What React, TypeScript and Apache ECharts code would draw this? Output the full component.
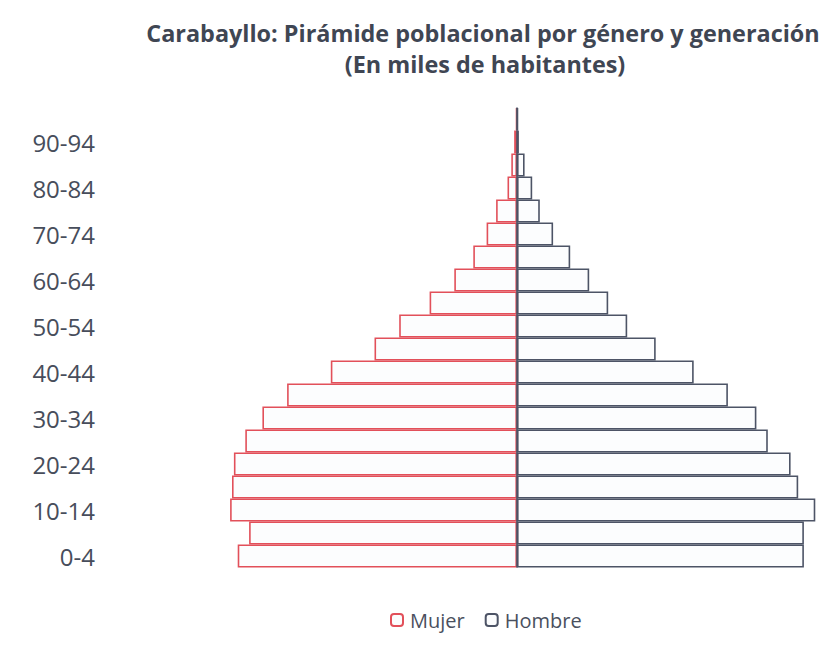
import React, { useEffect, useRef } from "react";
import * as echarts from "echarts";

const categories = [
  "0-4", "5-9", "10-14", "15-19", "20-24", "25-29", "30-34", "35-39", "40-44", "45-49",
  "50-54", "55-59", "60-64", "65-69", "70-74", "75-79", "80-84", "85-89", "90-94", "95+",
];

// miles de habitantes
const mujer = [14.7, 14.1, 15.1, 15.0, 14.9, 14.3, 13.4, 12.1, 9.8, 7.5, 6.2, 4.6, 3.3, 2.3, 1.6, 1.1, 0.5, 0.3, 0.15, 0.05];
const hombre = [15.1, 15.1, 15.7, 14.8, 14.4, 13.2, 12.6, 11.1, 9.3, 7.3, 5.8, 4.8, 3.8, 2.8, 1.9, 1.2, 0.8, 0.4, 0.1, 0.05];

const titleLine1 = "Carabayllo: Pirámide poblacional por género y generación";
const titleLine2 = "(En miles de habitantes)";

const RED = "#e2505a";
const BLUE = "#4d5466";
const FONT = "'Open Sans', 'Noto Sans', sans-serif";

export default function App() {
  const ref = useRef<HTMLDivElement>(null);
  useEffect(() => {
    if (!ref.current) return;
    const chart = echarts.init(ref.current, null, { renderer: "svg" });
    chart.setOption({
      animation: false,
      backgroundColor: "#ffffff",
      graphic: [
        {
          type: "text",
          x: 483,
          y: 33,
          style: {
            text: titleLine1,
            fill: "#3f4653",
            font: `bold 23.4px ${FONT}`,
            align: "center",
            verticalAlign: "middle",
            textAlign: "center",
            textVerticalAlign: "middle",
          },
        },
        {
          type: "text",
          x: 485,
          y: 64,
          style: {
            text: titleLine2,
            fill: "#3f4653",
            font: `bold 23.4px ${FONT}`,
            align: "center",
            verticalAlign: "middle",
            textAlign: "center",
            textVerticalAlign: "middle",
          },
        },
      ],
      legend: {
        data: ["Mujer", "Hombre"],
        left: 385,
        top: 605,
        itemWidth: 12,
        itemHeight: 12,
        itemGap: 20,
        textStyle: { fontFamily: FONT, fontSize: 20, color: "#4a505e", padding: [0, 0, 0, 2] },
      },
      grid: { left: 213, right: 5, top: 107.5, height: 460 },
      xAxis: {
        type: "value",
        min: -16,
        max: 16,
        show: false,
      },
      yAxis: {
        type: "category",
        data: categories,
        axisLine: { show: false },
        axisTick: { show: false },
        splitLine: { show: false },
        axisLabel: {
          interval: 1,
          margin: 118,
          fontFamily: FONT,
          fontSize: 24,
          color: "#474d5b",
        },
      },
      series: [
        {
          name: "Mujer",
          type: "bar",
          data: mujer.map((v) => -v),
          barCategoryGap: "0%",
          barGap: "-100%",
          itemStyle: { color: "#fcfdfe", borderColor: RED, borderWidth: 1.6 },
        },
        {
          name: "Hombre",
          type: "bar",
          data: hombre,
          barCategoryGap: "0%",
          barGap: "-100%",
          itemStyle: { color: "#fcfdfe", borderColor: BLUE, borderWidth: 1.6 },
          markLine: {
            silent: true,
            symbol: "none",
            label: { show: false },
            lineStyle: { color: BLUE, width: 1.6, type: "solid" },
            data: [{ xAxis: 0 }],
          },
        },
      ],
    });
    return () => chart.dispose();
  }, []);
  return (
    <div
      ref={ref}
      style={{ position: "fixed", left: 0, top: 0, width: 826, height: 646 }}
    />
  );
}
